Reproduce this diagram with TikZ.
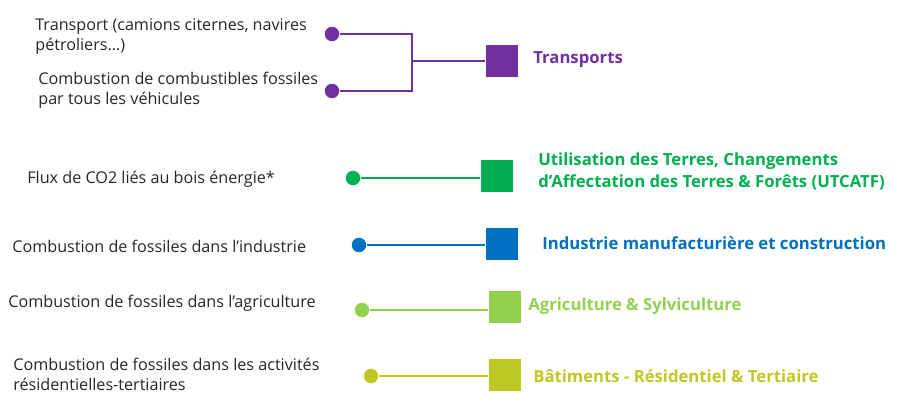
\documentclass[tikz,border=0pt]{standalone}
\usepackage{fontspec}
\setmainfont{Open Sans}
\usetikzlibrary{positioning}
\definecolor{secteurViolet}{RGB}{112,48,160}
\definecolor{secteurVert}{RGB}{0,176,80}
\definecolor{secteurBleu}{RGB}{0,112,192}
\definecolor{secteurVertClair}{RGB}{146,208,80}
\definecolor{secteurOlive}{RGB}{190,200,35}

\begin{document}
\begin{tikzpicture}[
  x=0.02cm, y=-0.02cm,
  source/.style={anchor=west, align=left, inner sep=0pt, text=black!85, font=\fontsize{9.2}{11.4}\selectfont},
  dot/.style={circle, fill=#1, minimum size=0.29cm, inner sep=0pt},
  sector/.style={rectangle, fill=#1, minimum size=0.65cm, inner sep=0pt},
  sectorname/.style={anchor=west, align=left, inner sep=0pt, text=#1, font=\bfseries\fontsize{9.5}{13}\selectfont},
  link/.style={draw=#1, line width=1.1pt}
]
\useasboundingbox (0,0) rectangle (904,393);

% Transports
\node[source] (srcTransport) at (35,36.5) {Transport (camions citernes, navires\\pétroliers…)};
\node[source] (srcVehicules) at (38,90.5) {Combustion de combustibles fossiles\\par tous les véhicules};
\node[dot=secteurViolet] (dotTransport) at (332,34) {};
\node[dot=secteurViolet] (dotVehicules) at (332,91) {};
\coordinate (joinTransports) at (412,61);
\node[sector=secteurViolet] (sqTransports) at (502,61) {};
\node[sectorname=secteurViolet] (nameTransports) at (533,60) {Transports};
\draw[link=secteurViolet] (dotTransport) -- (dotTransport -| joinTransports) -- (dotVehicules -| joinTransports) -- (dotVehicules);
\draw[link=secteurViolet] (joinTransports) -- (sqTransports);

% UTCATF
\node[source] (srcBois) at (27,179) {Flux de CO2 liés au bois énergie*};
\node[dot=secteurVert] (dotBois) at (353,178) {};
\node[sector=secteurVert] (sqUtcatf) at (497,176) {};
\node[sectorname=secteurVert] (nameUtcatf) at (538,171.5) {Utilisation des Terres, Changements\\d’Affectation des Terres \& Forêts (UTCATF)};
\draw[link=secteurVert] (dotBois) -- (dotBois -| sqUtcatf.west);

% Industrie
\node[source] (srcIndustrie) at (12,246) {Combustion de fossiles dans l’industrie};
\node[dot=secteurBleu] (dotIndustrie) at (359,245) {};
\node[sector=secteurBleu] (sqIndustrie) at (502,244) {};
\node[sectorname=secteurBleu] (nameIndustrie) at (542,243) {Industrie manufacturière et construction};
\draw[link=secteurBleu] (dotIndustrie) -- (dotIndustrie -| sqIndustrie.west);

% Agriculture
\node[source] (srcAgriculture) at (8,303) {Combustion de fossiles dans l’agriculture};
\node[dot=secteurVertClair] (dotAgriculture) at (362,310) {};
\node[sector=secteurVertClair] (sqAgriculture) at (505,307) {};
\node[sectorname=secteurVertClair] (nameAgriculture) at (528,306) {Agriculture \& Sylviculture};
\draw[link=secteurVertClair] (dotAgriculture) -- (dotAgriculture -| sqAgriculture.west);

% Batiments
\node[source] (srcBatiments) at (13,374.5) {Combustion de fossiles dans les activités\\résidentielles-tertiaires};
\node[dot=secteurOlive] (dotBatiments) at (371,376) {};
\node[sector=secteurOlive] (sqBatiments) at (505,375) {};
\node[sectorname=secteurOlive] (nameBatiments) at (533,376) {Bâtiments - Résidentiel \& Tertiaire};
\draw[link=secteurOlive] (dotBatiments) -- (dotBatiments -| sqBatiments.west);
\end{tikzpicture}
\end{document}
